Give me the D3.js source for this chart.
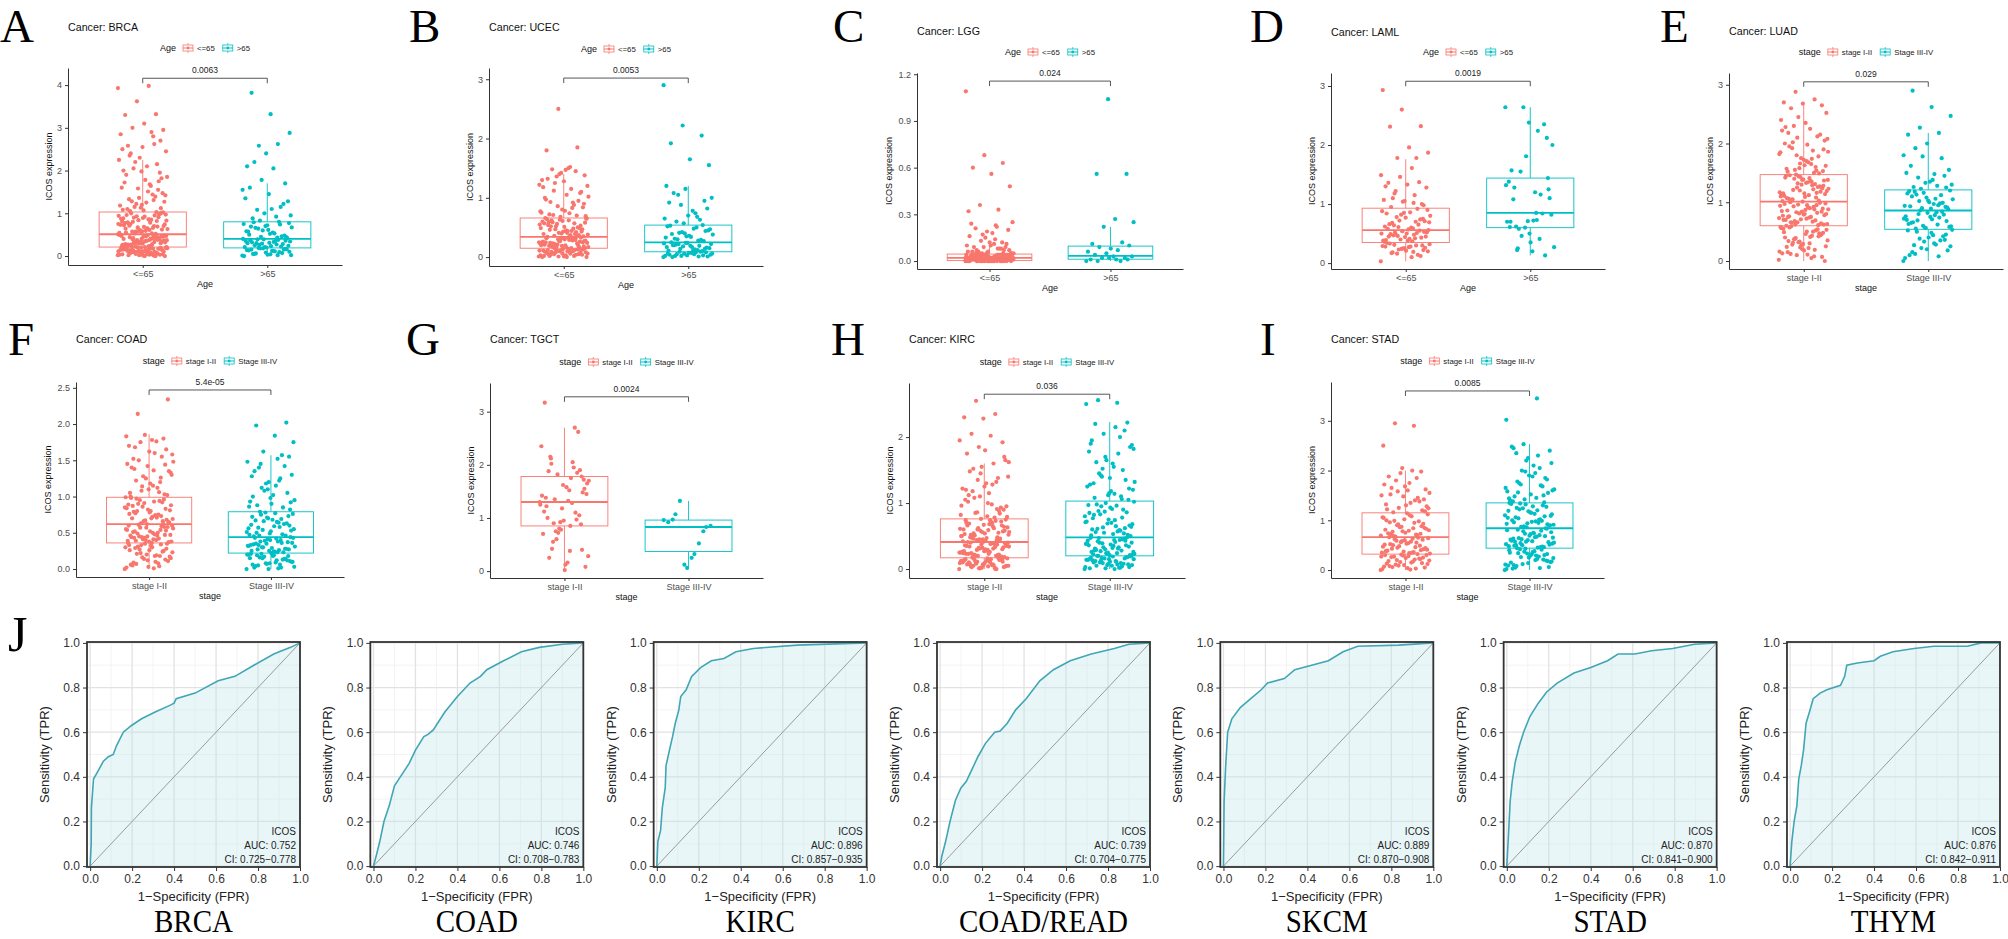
<!DOCTYPE html>
<html>
<head>
<meta charset="utf-8">
<script src="https://cdn.jsdelivr.net/npm/d3@7"></script>
<style>body{margin:0;background:#fff}</style>
</head>
<body>
<script>
// ---------- box panel data (ICOS expression) ----------
const ageCats = ["<=65", ">65"];
const stageCats = ["stage I-II", "Stage III-IV"];

// stats per group: [lower whisker, q1, median, q3, upper whisker]
const brcaStats = [[0, 0.21, 0.51, 1.03, 2.25], [0, 0.19, 0.40, 0.80, 1.70]];
const ucecStats = [[0, 0.15, 0.34, 0.66, 1.40], [0, 0.09, 0.25, 0.54, 1.20]];
const lggStats = [[0, 0.003, 0.02, 0.045, 0.10], [0, 0.012, 0.033, 0.096, 0.22]];
const lamlStats = [[0.03, 0.35, 0.56, 0.93, 1.76], [0.13, 0.60, 0.85, 1.44, 2.64]];
const luadStats = [[0, 0.60, 1.01, 1.47, 2.70], [0, 0.54, 0.86, 1.21, 2.18]];
const coadStats = [[0, 0.36, 0.62, 0.99, 1.86], [0, 0.22, 0.44, 0.79, 1.57]];
const tgctStats = [[0.02, 0.85, 1.30, 1.78, 2.70], [0.06, 0.37, 0.83, 0.96, 1.32]];
const kircStats = [[0, 0.17, 0.41, 0.76, 1.60], [0, 0.20, 0.48, 1.03, 2.23]];
const stadStats = [[0, 0.32, 0.66, 1.15, 2.00], [0, 0.44, 0.84, 1.35, 2.53]];

const brcaYoung = [0.02,0.15,0.07,0.19,0.11,0.04,0.17,0.09,0.00,0.13,0.20,0.06,0.12,0.03,0.18,0.08,0.14,0.01,0.16,0.10,
0.05,0.21,0.12,0.02,0.17,0.08,0.19,0.04,0.14,0.10,0.00,0.16,0.06,0.20,0.11,0.03,0.13,0.18,0.07,0.15,
0.01,0.09,0.19,0.05,0.12,0.17,0.02,0.14,0.08,0.21,0.04,0.11,0.16,0.00,0.10,0.18,0.06,0.13,0.03,0.20,
0.23,0.41,0.30,0.48,0.35,0.26,0.44,0.32,0.50,0.38,0.24,0.46,0.29,0.40,0.33,0.22,0.47,0.36,0.27,0.43,
0.31,0.49,0.25,0.39,0.45,0.34,0.28,0.42,0.37,0.51,0.23,0.44,0.30,0.40,0.26,0.48,0.35,0.32,0.46,0.22,
0.38,0.29,0.50,0.41,0.27,0.34,0.45,0.24,0.43,0.31,0.37,0.49,0.25,0.39,0.33,0.47,0.28,0.42,0.36,0.21,
0.55,0.82,0.67,0.94,0.61,0.75,1.01,0.58,0.88,0.70,0.53,0.97,0.64,0.79,0.91,0.60,0.73,0.85,0.57,1.02,
0.68,0.77,0.52,0.93,0.63,0.86,0.71,0.99,0.56,0.81,0.66,0.90,0.74,0.59,0.96,0.69,0.84,0.54,0.78,1.00,
0.62,0.89,0.72,0.95,0.57,0.83,0.65,0.76,0.98,0.60,0.87,0.53,0.80,0.70,0.92,0.64,1.03,0.58,0.75,0.85,
1.05,1.12,1.20,1.08,1.31,1.15,1.42,1.25,1.10,1.55,1.36,1.18,1.64,1.28,1.47,1.07,1.72,1.39,1.22,1.85,
1.51,1.33,1.95,1.13,1.60,1.44,2.05,1.27,1.78,1.90,2.15,1.58,2.25,1.68,2.40,1.82,2.55,2.00,2.62,2.20,
2.45,2.10,2.58,1.75,2.30,2.85,2.90,3.00,2.95,3.10,3.30,3.32,3.62,3.93,3.98,2.35,2.70,1.98,2.50,2.80];
const brcaOld = [0.01,0.12,0.05,0.17,0.08,0.14,0.02,0.19,0.10,0.04,0.15,0.07,0.18,0.00,0.11,0.06,0.16,0.03,0.13,0.09,0.18,0.02,0.12,0.05,0.15,
0.21,0.35,0.27,0.39,0.24,0.31,0.37,0.22,0.29,0.40,0.33,0.25,0.36,0.20,0.30,0.38,0.26,0.34,0.23,0.32,0.28,0.39,0.21,0.35,0.30,
0.42,0.61,0.50,0.74,0.45,0.67,0.55,0.79,0.48,0.70,0.58,0.43,0.64,0.77,0.52,0.69,0.46,0.60,0.75,0.53,0.66,0.44,0.72,0.57,0.80,
0.83,0.95,1.10,0.88,1.22,1.00,1.35,0.92,1.08,1.28,1.45,1.60,1.15,1.78,1.55,2.05,2.20,1.70,2.40,2.10,2.62,2.58,2.88,3.32,3.82];

const ucecYoung = [0.01,0.09,0.04,0.13,0.06,0.11,0.02,0.14,0.08,0.00,0.12,0.05,0.10,0.03,0.15,0.07,0.13,0.01,0.09,0.04,0.11,0.06,0.14,0.02,0.08,0.12,0.00,0.10,0.05,0.15,0.03,0.07,0.13,0.01,0.11,0.06,0.09,0.04,0.14,0.02,0.12,0.08,0.00,0.10,0.05,
0.16,0.27,0.20,0.32,0.23,0.18,0.30,0.25,0.34,0.21,0.17,0.29,0.24,0.33,0.19,0.26,0.31,0.22,0.28,0.16,0.34,0.20,0.27,0.23,0.30,0.18,0.25,0.32,0.21,0.29,0.17,0.24,0.33,0.19,0.26,0.31,0.22,0.28,0.16,0.27,0.20,0.32,0.23,0.30,0.25,
0.36,0.52,0.43,0.61,0.39,0.57,0.47,0.65,0.41,0.54,0.37,0.63,0.49,0.44,0.59,0.35,0.51,0.66,0.42,0.56,0.38,0.62,0.46,0.53,0.40,0.60,0.48,0.36,0.58,0.45,0.64,0.50,0.41,0.55,0.37,0.62,0.47,0.43,0.57,0.39,0.52,0.65,0.44,0.59,0.49,
0.68,0.75,0.83,0.71,0.90,0.78,0.97,0.70,0.86,1.02,0.74,0.93,1.10,0.80,1.18,0.88,1.25,0.69,1.05,1.32,0.95,1.40,0.77,1.15,1.48,0.84,1.28,1.00,1.45,1.36,1.20,1.50,0.72,1.08,1.42,1.30,0.92,1.12,1.38,1.47,1.80,1.85,2.50,1.22,1.52];
const ucecOld = [0.00,0.05,0.02,0.08,0.03,0.06,0.01,0.09,0.04,0.07,0.00,0.03,0.06,0.02,0.08,0.05,0.01,0.07,0.04,0.09,0.02,0.06,
0.11,0.20,0.14,0.24,0.17,0.12,0.22,0.15,0.19,0.25,0.10,0.18,0.23,0.13,0.21,0.16,0.24,0.11,0.19,0.14,0.22,0.17,0.20,
0.27,0.40,0.33,0.50,0.30,0.45,0.36,0.53,0.29,0.42,0.38,0.48,0.31,0.44,0.35,0.52,0.28,0.41,0.47,0.34,0.39,0.54,
0.57,0.65,0.74,0.60,0.82,0.70,0.92,0.63,0.88,1.00,0.78,1.08,0.95,1.15,1.20,0.68,1.05,1.55,1.65,1.92,2.05,2.22,2.90];

const lggYoung = [0,0.01,0,0,0.01,0,0.01,0.01,0,0,0.01,0,0.01,0,0,0.01,0.01,0,0.01,0,0,0.01,0,0.01,0.01,0,0,0.01,0,0.01,0,0.01,0,0,0.01,0.01,0,0.01,0,0.01,0,0,0.01,0,0.01,
0.01,0.02,0.01,0.02,0.02,0.01,0.02,0.01,0.02,0.02,0.01,0.02,0.01,0.01,0.02,0.02,0.01,0.02,0.01,0.02,0.02,0.01,0.01,0.02,0.02,0.01,0.02,0.01,0.02,0.01,0.02,0.02,0.01,0.02,0.01,0.01,0.02,0.02,0.01,0.02,0.01,0.02,0.01,0.02,0.02,
0.02,0.03,0.04,0.03,0.02,0.04,0.03,0.05,0.02,0.03,0.04,0.03,0.02,0.04,0.05,0.03,0.02,0.04,0.03,0.04,0.02,0.03,0.05,0.04,0.03,0.02,0.04,0.03,0.04,0.02,0.03,0.05,0.03,0.04,0.02,0.03,0.04,0.02,0.03,0.04,0.05,0.03,0.02,0.04,0.03,
0.05,0.06,0.08,0.05,0.07,0.10,0.06,0.12,0.09,0.05,0.14,0.07,0.11,0.06,0.16,0.08,0.13,0.05,0.18,0.09,0.07,0.15,0.10,0.22,0.06,0.20,0.12,0.24,0.08,0.17,0.25,0.11,0.21,0.09,0.19,0.32,0.33,0.36,0.48,0.56,0.60,0.63,0.68,1.09,0.23];
const lggOld = [0.00,0.01,0.00,0.01,0.02,0.01,0.00,0.02,0.03,0.03,0.04,0.02,0.05,0.06,0.07,0.09,0.10,0.08,0.11,0.12,0.22,0.25,0.27,0.56,0.56,1.04];

const lamlYoung = [0.03,0.10,0.18,0.22,0.25,0.28,0.30,0.16,0.20,0.27,0.33,0.12,0.24,0.29,0.19,0.31,0.26,0.21,0.34,0.14,0.23,0.32,0.28,0.17,0.30,0.25,
0.36,0.42,0.48,0.52,0.38,0.45,0.55,0.40,0.50,0.37,0.47,0.53,0.44,0.39,0.51,0.46,0.56,0.41,0.49,0.43,0.54,0.38,0.48,0.52,0.45,0.50,
0.58,0.65,0.72,0.80,0.60,0.68,0.75,0.85,0.62,0.70,0.78,0.90,0.57,0.66,0.74,0.82,0.88,0.59,0.64,0.71,0.77,0.84,0.92,0.61,0.69,0.86,
0.95,1.00,1.04,1.07,1.15,1.22,1.28,1.33,1.36,1.37,1.46,1.49,1.61,1.10,0.98,1.05,1.30,1.78,1.78,1.87,1.96,2.31,2.32,2.60,2.93,1.02,1.18];
const lamlOld = [2.64,0.85,0.22,1.44,2.38,0.61,1.16,0.46,2.00,0.72,1.28,0.13,1.81,0.70,2.24,0.58,1.10,0.35,1.57,0.84,
2.64,0.27,1.20,0.62,2.12,0.71,1.38,0.41,1.55,0.82,0.20,1.08,2.35,0.60,1.32,0.73,0.25,1.25,0.50,0.70];

const luadYoung = [0.02,0.30,0.12,0.45,0.20,0.55,0.08,0.38,0.25,0.50,0.15,0.42,0.33,0.58,0.05,0.28,0.48,0.18,0.40,0.52,0.10,0.35,0.22,0.57,0.44,0.27,0.13,0.50,0.37,0.00,0.46,0.24,0.54,0.32,0.16,0.41,0.59,0.07,0.29,0.49,0.19,0.39,0.53,0.11,0.34,0.47,0.23,0.56,0.43,0.31,
0.62,0.80,0.70,0.95,0.66,0.88,0.74,1.00,0.64,0.84,0.77,0.92,0.68,0.98,0.72,0.86,0.61,0.81,0.94,0.75,0.65,0.89,0.79,0.97,0.69,0.83,0.63,0.91,0.76,0.99,0.71,0.85,0.67,0.93,0.78,0.87,0.60,0.82,0.96,0.73,0.90,0.66,0.84,1.01,0.70,0.88,0.62,0.80,0.95,0.75,
1.03,1.20,1.10,1.35,1.05,1.28,1.15,1.42,1.08,1.25,1.38,1.12,1.46,1.18,1.30,1.02,1.22,1.40,1.14,1.33,1.07,1.26,1.44,1.17,1.36,1.04,1.24,1.39,1.11,1.31,1.47,1.19,1.34,1.06,1.27,1.43,1.13,1.29,1.21,1.37,1.09,1.45,1.16,1.32,1.23,1.41,1.01,1.26,1.38,1.15,
1.50,1.55,1.62,1.70,1.52,1.78,1.58,1.85,1.65,1.92,1.53,1.72,2.00,1.60,1.80,2.08,1.68,1.95,2.15,1.75,2.22,1.88,2.30,2.05,2.35,1.57,2.12,2.45,1.82,2.25,2.60,2.65,2.68,2.70,2.75,2.88,2.52,1.98,2.18,1.49,1.66,2.40,1.74,2.02,1.90,1.63,2.28,1.54,2.10,1.86];
const luadOld = [0.00,0.30,0.12,0.45,0.20,0.52,0.08,0.38,0.25,0.48,0.15,0.42,0.33,0.05,0.28,0.50,0.18,0.40,0.10,0.35,0.22,0.53,0.44,0.27,0.36,
0.56,0.70,0.62,0.80,0.58,0.75,0.65,0.84,0.60,0.72,0.78,0.55,0.68,0.82,0.63,0.74,0.86,0.59,0.71,0.66,0.79,0.57,0.76,0.83,0.69,
0.88,1.00,0.93,1.12,0.90,1.05,0.97,1.18,0.92,1.08,1.15,0.95,1.02,1.20,0.89,1.10,0.99,1.16,0.94,1.06,1.13,0.91,1.03,1.19,0.98,
1.23,1.30,1.38,1.26,1.45,1.33,1.50,1.28,1.42,1.55,1.35,1.62,1.75,1.78,1.80,1.48,1.92,1.25,2.00,2.15,2.18,2.27,2.47,2.62,2.90];

const coadEarly = [0.00,0.18,0.07,0.28,0.12,0.33,0.04,0.22,0.15,0.30,0.09,0.25,0.35,0.02,0.19,0.31,0.11,0.26,0.06,0.34,0.16,0.23,0.01,0.29,0.13,0.20,0.36,0.08,0.27,0.17,0.32,0.05,0.24,0.14,0.30,0.10,0.21,0.35,0.03,0.26,0.18,0.33,
0.38,0.50,0.43,0.58,0.40,0.54,0.46,0.61,0.37,0.52,0.44,0.59,0.41,0.56,0.48,0.39,0.53,0.45,0.60,0.42,0.57,0.47,0.36,0.51,0.62,0.43,0.55,0.40,0.49,0.58,0.38,0.46,0.54,0.44,0.60,0.41,0.52,0.47,0.57,0.39,0.50,0.45,
0.64,0.80,0.70,0.92,0.66,0.85,0.74,0.97,0.68,0.82,0.76,0.94,0.63,0.88,0.72,0.79,0.96,0.67,0.84,0.71,0.90,0.65,0.78,0.98,0.73,0.86,0.69,0.93,0.77,0.83,0.62,0.89,0.75,0.95,0.81,0.70,0.87,0.66,0.91,0.99,0.74,0.80,
1.02,1.10,1.05,1.20,1.08,1.30,1.15,1.38,1.03,1.25,1.45,1.12,1.50,1.35,1.18,1.40,1.55,1.28,1.48,1.60,1.22,1.65,1.42,1.70,1.06,1.75,1.33,1.78,1.52,1.80,1.85,1.83,1.76,2.14,2.34,1.62,1.00,1.26,1.14,1.58,1.36,1.68,1.44];
const coadLate = [0.00,0.12,0.05,0.18,0.08,0.21,0.02,0.15,0.10,0.19,0.04,0.14,0.07,0.20,0.01,0.16,0.11,0.22,0.06,0.13,0.17,0.03,0.09,0.19,0.12,0.00,0.15,0.06,0.21,0.10,0.18,0.02,0.14,0.08,0.20,
0.23,0.33,0.27,0.40,0.25,0.36,0.30,0.43,0.24,0.35,0.28,0.41,0.32,0.26,0.38,0.44,0.29,0.34,0.23,0.39,0.31,0.42,0.27,0.37,0.25,0.33,0.40,0.30,0.36,0.24,0.43,0.28,0.35,0.32,0.38,
0.46,0.60,0.52,0.72,0.48,0.66,0.55,0.77,0.50,0.63,0.70,0.47,0.58,0.75,0.53,0.68,0.45,0.62,0.78,0.51,0.65,0.57,0.73,0.49,0.61,0.69,0.54,0.76,0.59,0.67,0.46,0.71,0.56,0.64,0.79,
0.82,0.90,1.00,0.85,1.08,0.95,1.15,0.88,1.05,1.20,0.93,1.25,1.12,1.30,1.02,1.35,1.42,1.18,1.48,1.52,1.40,1.55,0.98,1.28,1.57,1.62,1.75,1.84,1.98,2.02,1.10,0.86,1.22,1.45,0.92];

const tgctEarly = [1.30,0.85,2.02,0.40,1.62,1.12,2.70,0.75,1.45,0.16,1.88,1.05,0.92,2.35,1.28,0.55,1.72,0.02,1.38,0.97,1.82,0.28,1.52,2.15,0.88,1.18,0.70,1.95,1.35,0.08,
1.58,1.00,2.62,0.80,1.25,1.75,0.42,1.48,0.95,3.17,1.10,0.60,1.65,1.32,0.25,1.90,0.78,1.42,2.05,0.90,1.55,0.12,1.22,1.85,0.72,1.70,0.38,2.12,1.78];
const tgctLate = [0.96,0.32,1.07,0.83,0.06,0.92,0.52,1.32,0.85,0.25,0.97,0.75,0.12];

const kircEarly = [0.00,0.10,0.04,0.15,0.07,0.13,0.02,0.11,0.05,0.16,0.08,0.14,0.01,0.12,0.06,0.17,0.03,0.09,0.15,0.00,0.11,0.05,0.13,0.08,0.16,0.02,0.10,0.06,0.14,0.04,0.12,0.07,0.17,0.01,0.09,0.15,0.03,0.11,0.06,0.13,0.00,0.08,0.16,0.04,0.10,0.14,0.02,0.12,0.07,0.05,
0.18,0.30,0.23,0.37,0.20,0.34,0.26,0.40,0.19,0.32,0.24,0.38,0.21,0.35,0.28,0.41,0.22,0.31,0.25,0.39,0.18,0.33,0.27,0.36,0.20,0.29,0.40,0.23,0.34,0.19,0.37,0.26,0.31,0.22,0.39,0.28,0.35,0.21,0.32,0.25,0.38,0.24,0.30,0.41,0.27,0.33,0.20,0.36,0.29,0.23,
0.43,0.58,0.50,0.70,0.46,0.64,0.54,0.74,0.44,0.60,0.52,0.68,0.48,0.72,0.56,0.42,0.62,0.51,0.75,0.47,0.66,0.55,0.45,0.61,0.71,0.49,0.57,0.67,0.53,0.73,0.44,0.63,0.59,0.69,0.46,0.76,0.50,0.65,0.54,0.58,0.43,0.70,0.48,0.62,0.56,0.74,0.52,0.66,0.45,0.60,
0.78,0.85,0.95,0.80,1.02,0.88,1.10,0.82,0.98,1.18,0.90,1.25,1.05,1.32,0.86,1.40,1.15,1.48,0.93,1.55,1.22,1.60,1.08,1.65,1.30,1.75,1.38,1.85,1.95,2.02,2.05,1.92,2.28,2.30,2.35,2.55,0.79,1.00,1.12,0.84,1.45,0.96,1.28,1.52,1.70,1.80,1.20,0.91,1.35,1.62];
const kircLate = [0.00,0.12,0.05,0.18,0.08,0.15,0.02,0.13,0.06,0.19,0.10,0.16,0.01,0.14,0.07,0.20,0.03,0.11,0.17,0.04,0.09,0.15,0.00,0.12,0.18,0.06,0.14,0.02,0.10,0.19,0.05,0.13,0.08,0.16,0.03,0.11,0.20,0.07,0.15,0.01,0.09,0.17,
0.22,0.35,0.28,0.43,0.24,0.39,0.31,0.47,0.21,0.37,0.26,0.45,0.33,0.23,0.41,0.29,0.48,0.25,0.36,0.44,0.27,0.40,0.32,0.22,0.46,0.30,0.38,0.24,0.42,0.34,0.21,0.47,0.28,0.39,0.26,0.44,0.31,0.36,0.23,0.43,0.33,0.40,
0.50,0.70,0.60,0.90,0.55,0.80,0.65,0.98,0.52,0.75,0.85,0.58,0.95,0.68,0.53,0.82,0.62,1.00,0.72,0.57,0.88,0.66,0.93,0.51,0.78,0.63,1.02,0.74,0.56,0.86,0.69,0.97,0.59,0.83,0.64,0.91,0.77,0.54,0.87,0.71,0.96,0.61,
1.05,1.15,1.28,1.10,1.40,1.20,1.55,1.08,1.35,1.65,1.25,1.75,1.45,1.85,1.18,1.95,1.50,2.05,1.32,2.15,1.62,2.22,1.12,1.78,2.00,1.42,1.88,1.60,1.30,2.10,1.70,2.50,2.52,2.56,1.22,1.38,1.90,1.06,1.52,1.82,1.14,2.20];

const stadEarly = [0.00,0.15,0.06,0.25,0.10,0.30,0.03,0.20,0.12,0.28,0.08,0.22,0.31,0.02,0.17,0.27,0.05,0.24,0.13,0.32,0.09,0.19,0.01,0.26,0.14,0.29,0.07,0.21,0.11,0.30,0.04,0.18,0.23,0.16,0.27,
0.35,0.50,0.42,0.60,0.38,0.55,0.45,0.64,0.34,0.52,0.40,0.58,0.47,0.36,0.62,0.44,0.53,0.39,0.65,0.48,0.33,0.57,0.43,0.61,0.37,0.51,0.46,0.59,0.41,0.54,0.66,0.49,0.56,0.35,0.63,
0.68,0.85,0.75,1.00,0.70,0.92,0.80,1.10,0.72,0.88,0.78,1.05,0.95,0.67,0.83,1.14,0.74,0.98,0.86,0.69,1.08,0.77,0.93,1.02,0.81,0.71,0.90,1.12,0.79,0.96,0.73,0.87,1.06,0.84,0.99,
1.18,1.30,1.22,1.45,1.25,1.55,1.35,1.65,1.20,1.48,1.72,1.40,1.80,1.28,1.60,1.88,1.38,1.95,1.50,2.00,1.16,1.42,1.68,1.32,1.85,1.58,1.24,1.75,1.52,1.98,2.05,2.50,2.90,2.95,1.62];
const stadLate = [0.00,0.20,0.08,0.32,0.14,0.40,0.04,0.26,0.17,0.36,0.10,0.30,0.43,0.02,0.22,0.34,0.06,0.28,0.15,0.41,0.12,0.24,0.38,0.05,0.19,0.33,0.09,0.27,0.42,0.16,0.31,0.03,0.21,0.37,0.11,0.29,0.44,0.18,0.25,0.35,
0.46,0.62,0.53,0.75,0.49,0.68,0.57,0.80,0.45,0.64,0.51,0.72,0.59,0.47,0.78,0.55,0.66,0.50,0.83,0.60,0.48,0.70,0.54,0.76,0.58,0.63,0.46,0.73,0.52,0.67,0.81,0.56,0.69,0.61,0.79,0.50,0.65,0.74,0.57,0.84,
0.86,1.05,0.95,1.22,0.90,1.15,1.00,1.30,0.88,1.10,0.98,1.25,0.92,1.18,1.35,1.02,0.87,1.12,1.28,0.96,1.08,1.32,0.93,1.20,1.04,0.89,1.16,1.33,0.99,1.24,0.91,1.13,1.06,1.27,0.94,1.19,1.01,1.34,1.09,0.97,
1.38,1.50,1.42,1.65,1.45,1.78,1.55,1.90,1.40,1.70,2.00,1.60,2.10,1.48,1.85,2.20,1.58,2.30,1.75,2.40,1.52,2.48,1.68,2.53,1.62,1.95,2.35,1.82,2.25,1.44,2.05,1.72,2.15,1.88,2.45,1.36,1.98,3.02,3.45,1.56];

// ---------- ROC data ([1-specificity, sensitivity]) ----------
const rocNames = ["BRCA", "COAD", "KIRC", "COAD/READ", "SKCM", "STAD", "THYM"];
const rocAuc = ["0.752", "0.746", "0.896", "0.739", "0.889", "0.870", "0.876"];
const rocCi = ["0.725\u22120.778", "0.708\u22120.783", "0.857\u22120.935", "0.704\u22120.775", "0.870\u22120.908", "0.841\u22120.900", "0.842\u22120.911"];
const brcaRoc = [[0,0],[0.005,0.10],[0.006,0.26],[0.016,0.39],[0.04,0.43],[0.063,0.47],[0.087,0.49],[0.11,0.50],[0.126,0.54],[0.158,0.60],[0.197,0.63],[0.245,0.66],[0.31,0.69],[0.38,0.72],[0.40,0.73],[0.41,0.75],[0.50,0.775],[0.61,0.83],[0.69,0.85],[0.78,0.90],[0.875,0.95],[0.955,0.98],[1,1]];
const coadRoc = [[0,0],[0.014,0.05],[0.03,0.11],[0.05,0.20],[0.075,0.27],[0.10,0.36],[0.128,0.40],[0.17,0.46],[0.20,0.52],[0.24,0.58],[0.26,0.59],[0.285,0.61],[0.34,0.69],[0.40,0.76],[0.46,0.82],[0.51,0.85],[0.54,0.88],[0.62,0.92],[0.705,0.96],[0.79,0.98],[0.90,0.994],[1,1]];
const kircRoc = [[0,0],[0.005,0.11],[0.018,0.16],[0.026,0.26],[0.04,0.35],[0.044,0.45],[0.058,0.51],[0.075,0.58],[0.088,0.64],[0.105,0.70],[0.114,0.76],[0.14,0.79],[0.166,0.85],[0.21,0.89],[0.26,0.92],[0.32,0.93],[0.377,0.96],[0.46,0.975],[0.67,0.99],[1,1]];
const coadReadRoc = [[0,0],[0.008,0.044],[0.026,0.11],[0.047,0.20],[0.073,0.295],[0.099,0.35],[0.125,0.38],[0.15,0.43],[0.18,0.49],[0.216,0.55],[0.26,0.60],[0.286,0.605],[0.32,0.64],[0.36,0.70],[0.41,0.75],[0.475,0.83],[0.54,0.88],[0.62,0.92],[0.72,0.95],[0.83,0.975],[0.90,0.994],[1,1]];
const skcmRoc = [[0,0],[0.003,0.29],[0.01,0.44],[0.02,0.60],[0.04,0.66],[0.08,0.71],[0.13,0.75],[0.18,0.79],[0.21,0.82],[0.29,0.84],[0.34,0.88],[0.42,0.90],[0.50,0.92],[0.57,0.96],[0.64,0.985],[0.835,0.99],[1,1]];
const stadRoc = [[0,0],[0.008,0.14],[0.016,0.29],[0.026,0.38],[0.04,0.465],[0.06,0.54],[0.08,0.60],[0.11,0.67],[0.15,0.73],[0.19,0.78],[0.24,0.82],[0.32,0.865],[0.40,0.89],[0.48,0.92],[0.53,0.95],[0.61,0.95],[0.69,0.965],[0.79,0.975],[0.895,0.994],[1,1]];
const thymRoc = [[0,0],[0.008,0.11],[0.019,0.20],[0.032,0.27],[0.041,0.39],[0.053,0.45],[0.064,0.52],[0.076,0.64],[0.092,0.69],[0.11,0.75],[0.143,0.775],[0.175,0.79],[0.24,0.81],[0.26,0.85],[0.27,0.90],[0.32,0.91],[0.40,0.92],[0.43,0.94],[0.49,0.96],[0.59,0.975],[0.685,0.985],[0.845,0.985],[0.91,1.0],[1,1]];
const rocCurves = [brcaRoc, coadRoc, kircRoc, coadReadRoc, skcmRoc, stadRoc, thymRoc];

// ---------- layout ----------
const RED = "#F8766D", TEAL = "#00BFC4";
const SANS = "'Liberation Sans', Arial, Helvetica, sans-serif";
const SERIF = "'Liberation Serif', 'Times New Roman', serif";

const boxPanels = [
  { letter: "A", lx: 0, ly: 42, cancer: "BRCA", legend: "Age", cats: ageCats, values: [brcaYoung, brcaOld], stats: brcaStats, p: "0.0063", bracket: 4.16,
    left: 68, right: 342, top: 68, bottom: 265, domain: [-0.21, 4.40], ticks: [0, 1, 2, 3, 4], fmt: d3.format("d"), titleY: 27, legY: 48 },
  { letter: "B", lx: 409, ly: 42, cancer: "UCEC", legend: "Age", cats: ageCats, values: [ucecYoung, ucecOld], stats: ucecStats, p: "0.0053", bracket: 3.02,
    left: 489, right: 763, top: 68, bottom: 266, domain: [-0.15, 3.19], ticks: [0, 1, 2, 3], fmt: d3.format("d"), titleY: 27, legY: 49 },
  { letter: "C", lx: 833, ly: 42, cancer: "LGG", legend: "Age", cats: ageCats, values: [lggYoung, lggOld], stats: lggStats, p: "0.024", bracket: 1.156,
    left: 917, right: 1183, top: 73, bottom: 269, domain: [-0.051, 1.208], ticks: [0, 0.3, 0.6, 0.9, 1.2], fmt: d3.format(".1f"), titleY: 31, legY: 52 },
  { letter: "D", lx: 1250, ly: 42, cancer: "LAML", legend: "Age", cats: ageCats, values: [lamlYoung, lamlOld], stats: lamlStats, p: "0.0019", bracket: 3.08,
    left: 1331, right: 1605, top: 73, bottom: 269, domain: [-0.10, 3.22], ticks: [0, 1, 2, 3], fmt: d3.format("d"), titleY: 32, legY: 52 },
  { letter: "E", lx: 1660, ly: 42, cancer: "LUAD", legend: "stage", cats: stageCats, values: [luadYoung, luadOld], stats: luadStats, p: "0.029", bracket: 3.05,
    left: 1729, right: 2003, top: 73, bottom: 269, domain: [-0.136, 3.20], ticks: [0, 1, 2, 3], fmt: d3.format("d"), titleY: 31, legY: 52 },
  { letter: "F", lx: 8, ly: 355, cancer: "COAD", legend: "stage", cats: stageCats, values: [coadEarly, coadLate], stats: coadStats, p: "5.4e-05", bracket: 2.47,
    left: 76, right: 344, top: 382, bottom: 577, domain: [-0.11, 2.58], ticks: [0, 0.5, 1, 1.5, 2, 2.5], fmt: d3.format(".1f"), titleY: 339, legY: 361 },
  { letter: "G", lx: 406, ly: 355, cancer: "TGCT", legend: "stage", cats: stageCats, values: [tgctEarly, tgctLate], stats: tgctStats, p: "0.0024", bracket: 3.28,
    left: 490, right: 763, top: 383, bottom: 578, domain: [-0.13, 3.54], ticks: [0, 1, 2, 3], fmt: d3.format("d"), titleY: 339, legY: 362 },
  { letter: "H", lx: 831, ly: 355, cancer: "KIRC", legend: "stage", cats: stageCats, values: [kircEarly, kircLate], stats: kircStats, p: "0.036", bracket: 2.65,
    left: 909, right: 1185, top: 383, bottom: 578, domain: [-0.136, 2.82], ticks: [0, 1, 2], fmt: d3.format("d"), titleY: 339, legY: 362 },
  { letter: "I", lx: 1260, ly: 355, cancer: "STAD", legend: "stage", cats: stageCats, values: [stadEarly, stadLate], stats: stadStats, p: "0.0085", bracket: 3.60,
    left: 1331, right: 1604, top: 382, bottom: 578, domain: [-0.16, 3.78], ticks: [0, 1, 2, 3], fmt: d3.format("d"), titleY: 339, legY: 361 }
];

const svg = d3.select("body").append("svg")
  .attr("width", 2008).attr("height", 939)
  .attr("font-family", SANS);

// quasi-random horizontal jitter (golden ratio sequence), +-0.2 band units
const jitter = (i) => (((i * 0.6180339887) % 1) - 0.5) * 0.4;

function drawLegend(g, cx, y, title, cats) {
  const lg = g.append("g");
  let x = 0;
  const t = lg.append("text").attr("x", x).attr("y", y).attr("dy", "0.35em")
    .attr("font-size", 9).attr("fill", "#111").text(title);
  x += t.node().getComputedTextLength() + 6;
  cats.forEach((c, i) => {
    const col = i === 0 ? RED : TEAL;
    lg.append("line").attr("x1", x + 6).attr("x2", x + 6).attr("y1", y - 5).attr("y2", y + 5)
      .attr("stroke", col).attr("stroke-width", 0.8);
    lg.append("rect").attr("x", x + 1).attr("y", y - 3).attr("width", 10).attr("height", 6)
      .attr("fill", "#fff").attr("stroke", col).attr("stroke-width", 0.8);
    lg.append("line").attr("x1", x + 1).attr("x2", x + 11).attr("y1", y).attr("y2", y)
      .attr("stroke", col).attr("stroke-width", 1);
    lg.append("circle").attr("cx", x + 6).attr("cy", y).attr("r", 1.4).attr("fill", col);
    x += 15;
    const tt = lg.append("text").attr("x", x).attr("y", y).attr("dy", "0.35em")
      .attr("font-size", 7.8).attr("fill", "#222").text(c);
    x += tt.node().getComputedTextLength() + 7;
  });
  lg.attr("transform", `translate(${cx - (x - 7) / 2},0)`);
}

function drawBoxPanel(p) {
  const g = svg.append("g");
  const x = d3.scaleLinear().domain([0.4, 2.6]).range([p.left, p.right]);
  const y = d3.scaleLinear().domain(p.domain).range([p.bottom, p.top]);

  svg.append("text").attr("x", p.lx).attr("y", p.ly)
    .attr("font-family", SERIF).attr("font-size", 47).attr("fill", "#000").text(p.letter);

  g.append("text").attr("x", p.left).attr("y", p.titleY).attr("dy", "0.35em")
    .attr("font-size", 10.7).attr("fill", "#111").text("Cancer: " + p.cancer);

  drawLegend(g, (p.left + p.right) / 2, p.legY, p.legend, p.cats);

  // boxes
  p.stats.forEach((s, k) => {
    const col = k === 0 ? RED : TEAL;
    const cx = x(k + 1);
    const x0 = x(k + 1 - 0.35), x1 = x(k + 1 + 0.35);
    g.append("line").attr("x1", cx).attr("x2", cx).attr("y1", y(s[3])).attr("y2", y(s[4]))
      .attr("stroke", col).attr("stroke-width", 0.9);
    g.append("line").attr("x1", cx).attr("x2", cx).attr("y1", y(s[1])).attr("y2", y(s[0]))
      .attr("stroke", col).attr("stroke-width", 0.9);
    g.append("rect").attr("x", x0).attr("width", x1 - x0)
      .attr("y", y(s[3])).attr("height", Math.max(0.5, y(s[1]) - y(s[3])))
      .attr("fill", "#fff").attr("stroke", col).attr("stroke-width", 0.9);
    g.append("line").attr("x1", x0).attr("x2", x1).attr("y1", y(s[2])).attr("y2", y(s[2]))
      .attr("stroke", col).attr("stroke-width", 1.8);
  });

  // jittered points
  p.values.forEach((vals, k) => {
    const col = k === 0 ? RED : TEAL;
    g.append("g").selectAll("circle").data(vals).join("circle")
      .attr("cx", (d, i) => x(k + 1 + jitter(i)))
      .attr("cy", (d) => y(d))
      .attr("r", 2.1)
      .attr("fill", col);
  });

  // axes
  const ya = g.append("g").attr("transform", `translate(${p.left},0)`)
    .call(d3.axisLeft(y).tickValues(p.ticks).tickFormat(p.fmt).tickSize(3).tickSizeOuter(0));
  const xa = g.append("g").attr("transform", `translate(0,${p.bottom})`)
    .call(d3.axisBottom(x).tickValues([1, 2]).tickFormat((d) => p.cats[d - 1]).tickSize(3).tickSizeOuter(0));
  [ya, xa].forEach((a) => {
    a.select(".domain").attr("stroke", "#333").attr("stroke-width", 1);
    a.selectAll(".tick line").attr("stroke", "#333");
    a.selectAll(".tick text").attr("font-size", 9).attr("fill", "#4d4d4d").attr("font-family", SANS);
  });
  xa.selectAll(".tick text").attr("dy", "0.75em").attr("y", 5);

  g.append("text")
    .attr("transform", `translate(${p.left - (p.ticks.some((t) => t % 1) ? 25 : 16)},${(p.top + p.bottom) / 2}) rotate(-90)`)
    .attr("text-anchor", "middle").attr("font-size", 9).attr("fill", "#111").text("ICOS expression");
  g.append("text").attr("x", (p.left + p.right) / 2).attr("y", p.bottom + 19).attr("dy", "0.35em")
    .attr("text-anchor", "middle").attr("font-size", 9).attr("fill", "#111").text(p.legend);

  // comparison bracket
  const by = y(p.bracket);
  g.append("path")
    .attr("d", `M${x(1)},${by + 5}V${by}H${x(2)}V${by + 5}`)
    .attr("fill", "none").attr("stroke", "#444").attr("stroke-width", 0.9);
  g.append("text").attr("x", (x(1) + x(2)) / 2).attr("y", by - 5)
    .attr("text-anchor", "middle").attr("font-size", 8.5).attr("fill", "#222").text(p.p);
}

boxPanels.forEach(drawBoxPanel);

// ---------- J: ROC curves ----------
svg.append("text").attr("x", 8).attr("y", 651)
  .attr("font-family", SERIF).attr("font-size", 50).attr("fill", "#000").text("J");

rocCurves.forEach((pts, i) => {
  const L = 87 + i * 283.33, R = L + 213, T = 642, B = 867;
  const x = d3.scaleLinear().domain([-0.015, 1]).range([L, R]);
  const y = d3.scaleLinear().domain([-0.004, 1.004]).range([B, T]);
  const g = svg.append("g");

  const minor = [0.1, 0.3, 0.5, 0.7, 0.9];
  const major = [0, 0.2, 0.4, 0.6, 0.8, 1];
  minor.forEach((v) => {
    g.append("line").attr("x1", x(v)).attr("x2", x(v)).attr("y1", T).attr("y2", B).attr("stroke", "#f0f0f0").attr("stroke-width", 0.8);
    g.append("line").attr("x1", L).attr("x2", R).attr("y1", y(v)).attr("y2", y(v)).attr("stroke", "#f0f0f0").attr("stroke-width", 0.8);
  });
  major.forEach((v) => {
    g.append("line").attr("x1", x(v)).attr("x2", x(v)).attr("y1", T).attr("y2", B).attr("stroke", "#e2e2e2").attr("stroke-width", 1.3);
    g.append("line").attr("x1", L).attr("x2", R).attr("y1", y(v)).attr("y2", y(v)).attr("stroke", "#e2e2e2").attr("stroke-width", 1.3);
  });

  g.append("path").datum(pts)
    .attr("d", d3.area().x((d) => x(d[0])).y0(y(0)).y1((d) => y(d[1])))
    .attr("fill", "#bfe5ec").attr("fill-opacity", 0.35);
  g.append("line").attr("x1", x(0)).attr("y1", y(0)).attr("x2", x(1)).attr("y2", y(1))
    .attr("stroke", "#9a9a9a").attr("stroke-width", 1);
  g.append("path").datum(pts)
    .attr("d", d3.line().x((d) => x(d[0])).y((d) => y(d[1])))
    .attr("fill", "none").attr("stroke", "#40a6b5").attr("stroke-width", 1.6);

  g.append("rect").attr("x", L).attr("y", T).attr("width", R - L).attr("height", B - T)
    .attr("fill", "none").attr("stroke", "#333").attr("stroke-width", 1.8);

  const xa = g.append("g").attr("transform", `translate(0,${B})`)
    .call(d3.axisBottom(x).tickValues(major).tickFormat(d3.format(".1f")).tickSize(4).tickSizeOuter(0));
  const ya = g.append("g").attr("transform", `translate(${L},0)`)
    .call(d3.axisLeft(y).tickValues(major).tickFormat(d3.format(".1f")).tickSize(4).tickSizeOuter(0));
  [xa, ya].forEach((a) => {
    a.select(".domain").remove();
    a.selectAll(".tick line").attr("stroke", "#333").attr("stroke-width", 1);
    a.selectAll(".tick text").attr("font-size", 12).attr("fill", "#333").attr("font-family", SANS);
  });

  g.append("text").attr("x", (L + R) / 2).attr("y", 896).attr("dy", "0.35em")
    .attr("text-anchor", "middle").attr("font-size", 13).attr("fill", "#222").text("1\u2212Specificity (FPR)");
  g.append("text").attr("transform", `translate(${L - 38},${(T + B) / 2}) rotate(-90)`)
    .attr("text-anchor", "middle").attr("font-size", 13).attr("fill", "#222").text("Sensitivity (TPR)");

  ["ICOS", "AUC: " + rocAuc[i], "CI: " + rocCi[i]].forEach((s, j) => {
    g.append("text").attr("x", R - 4).attr("y", 831 + j * 14).attr("dy", "0.35em")
      .attr("text-anchor", "end").attr("font-size", 10).attr("fill", "#222").text(s);
  });

  g.append("text").attr("transform", `translate(${(L + R) / 2},932) scale(1,1.1)`)
    .attr("text-anchor", "middle").attr("font-family", SERIF).attr("font-size", 29)
    .attr("fill", "#000").text(rocNames[i]);
});
</script>
</body>
</html>
